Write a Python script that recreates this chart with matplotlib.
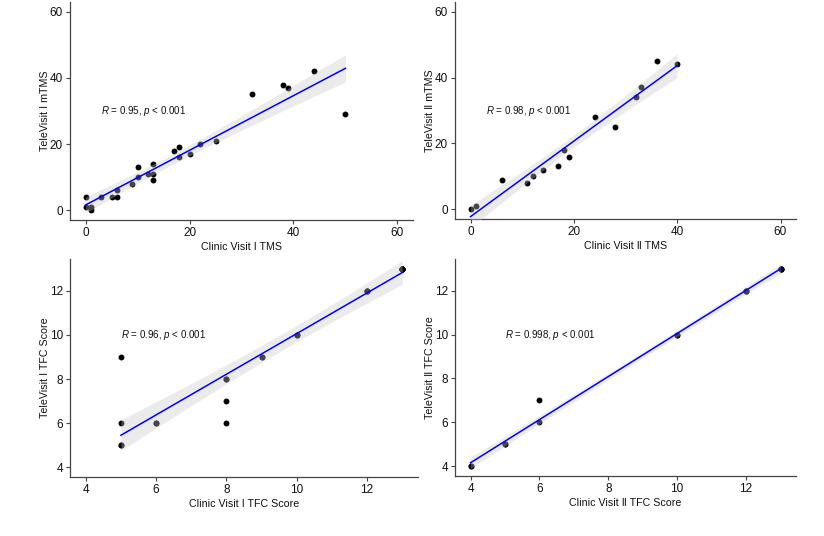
import numpy as np
import matplotlib
matplotlib.use('Agg')
import matplotlib.pyplot as plt

plt.rcParams['font.family'] = ['Liberation Sans', 'DejaVu Sans']
plt.rcParams['mathtext.fontset'] = 'custom'
plt.rcParams['mathtext.it'] = 'Liberation Sans:italic'
plt.rcParams['mathtext.rm'] = 'Liberation Sans'

# visit I, motor score
tms1_x = [0, 0, 1, 1, 3, 5, 6, 6, 9, 10, 10, 12, 13, 13, 13, 17, 18, 18, 20, 22, 25, 32, 38, 39, 44, 50]
tms1_y = [4, 1, 1, 0, 4, 4, 6, 4, 8, 13, 10, 11, 14, 11, 9, 18, 19, 16, 17, 20, 21, 35, 38, 37, 42, 29]
# visit II, motor score
tms2_x = [0, 1, 6, 11, 12, 14, 17, 18, 19, 24, 28, 32, 33, 36, 40]
tms2_y = [0, 1, 9, 8, 10, 12, 13, 18, 16, 28, 25, 34, 37, 45, 44]
# visit I, TFC (overlapping points repeated)
tfc1_x = [5, 5, 5, 5, 6, 6, 8, 8, 8, 8, 9, 9, 10, 10, 12, 12, 12,
          13, 13, 13, 13, 13, 13, 13, 13, 13]
tfc1_y = [9, 6, 5, 5, 6, 6, 8, 8, 7, 6, 9, 9, 10, 10, 12, 12, 12,
          13, 13, 13, 13, 13, 13, 13, 13, 13]
# visit II, TFC (overlapping points repeated)
tfc2_x = [4, 4, 5, 5, 6, 6, 10, 10, 12, 12, 12, 13, 13, 13, 13]
tfc2_y = [4, 4, 5, 5, 7, 6, 10, 10, 12, 12, 12, 13, 13, 13, 13]

labels_x = ['Clinic Visit I TMS', 'Clinic Visit \u2161 TMS',
            'Clinic Visit I TFC Score', 'Clinic Visit \u2161 TFC Score']
labels_y = ['TeleVisit I mTMS', 'TeleVisit \u2161 mTMS',
            'TeleVisit I TFC Score', 'TeleVisit \u2161 TFC Score']
cor_text = ['$R$ = 0.95, $p$ < 0.001', '$R$ = 0.98, $p$ < 0.001',
            '$R$ = 0.96, $p$ < 0.001', '$R$ = 0.998, $p$ < 0.001']
cor_pos = [(3, 30), (3, 30), (5, 10), (5, 10)]

# t quantiles (0.975) for the confidence band
T975 = {5: 2.571, 9: 2.262, 13: 2.160, 24: 2.064}

W, H = 824, 536
# pixel boxes: left, right, top, bottom
boxes = [(70, 413, 2, 220), (455, 796, 2, 219),
         (70, 418, 259, 477), (455, 796, 259, 476)]
lims = [((-3, 63), (-3, 63), [0, 20, 40, 60], [0, 20, 40, 60]),
        ((-3, 63), (-3, 63), [0, 20, 40, 60], [0, 20, 40, 60]),
        ((3.55, 13.45), (3.55, 13.45), [4, 6, 8, 10, 12], [4, 6, 8, 10, 12]),
        ((3.55, 13.45), (3.55, 13.45), [4, 6, 8, 10, 12], [4, 6, 8, 10, 12])]

data = [(tms1_x, tms1_y), (tms2_x, tms2_y), (tfc1_x, tfc1_y), (tfc2_x, tfc2_y)]

fig = plt.figure(figsize=(W / 100, H / 100), dpi=100)

axcol = '#444444'
txtcol = '#111111'


def smooth(ax, x, y):
    x = np.asarray(x, float)
    y = np.asarray(y, float)
    n = len(x)
    b, a = np.polyfit(x, y, 1)
    xs = np.linspace(x.min(), x.max(), 80)
    ys = a + b * xs
    res = y - (a + b * x)
    s = np.sqrt(np.sum(res ** 2) / (n - 2))
    se = s * np.sqrt(1.0 / n + (xs - x.mean()) ** 2 / np.sum((x - x.mean()) ** 2))
    t = T975.get(n - 2, 2.0)
    ax.fill_between(xs, ys - t * se, ys + t * se, color='#c8c8c8', alpha=0.35,
                    lw=0, zorder=3)
    ax.plot(xs, ys, color='#0000ff', lw=1.1, zorder=4)


for i, (l, r, t, b) in enumerate(boxes):
    ax = fig.add_axes([l / W, (H - b) / H, (r - l) / W, (b - t) / H])
    x, y = data[i]
    ax.scatter(x, y, s=18, color='black', lw=0, zorder=2)
    smooth(ax, x, y)
    xl, yl, xt, yt = lims[i]
    ax.set_xlim(xl)
    ax.set_ylim(yl)
    ax.set_xticks(xt)
    ax.set_yticks(yt)
    for sp in ['top', 'right']:
        ax.spines[sp].set_visible(False)
    for sp in ['left', 'bottom']:
        ax.spines[sp].set_color(axcol)
        ax.spines[sp].set_linewidth(0.9)
    ax.tick_params(length=3, width=0.8, color=axcol, labelcolor=txtcol,
                   labelsize=8.5, pad=2)
    ax.set_xlabel(labels_x[i], fontsize=7.7, color=txtcol, labelpad=2)
    ax.set_ylabel(labels_y[i], fontsize=7.7, color=txtcol, labelpad=0)
    ax.text(cor_pos[i][0], cor_pos[i][1], cor_text[i], fontsize=7.0,
            color=txtcol, ha='left', va='center')

fig.savefig('out.png', dpi=100)
